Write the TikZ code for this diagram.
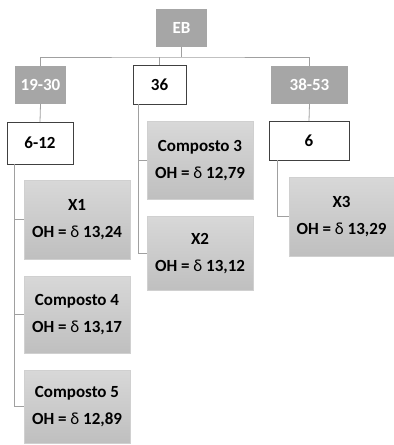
\documentclass[tikz,border=0pt]{standalone}
\usepackage{fontspec}
\setmainfont{Carlito}
\definecolor{hdrgray}{HTML}{A6A6A6}
\definecolor{linegray}{HTML}{A0A0A0}
\definecolor{boxtop}{HTML}{D8D8D8}
\definecolor{boxbot}{HTML}{BFBFBF}
\definecolor{boxedge}{HTML}{D0D0D0}
\definecolor{frame}{HTML}{404040}
\newcommand{\dlt}{{\mdseries δ}}
\begin{document}
\begin{tikzpicture}[x=1pt,y=-1pt,
  base/.style={inner sep=0pt,outer sep=0pt,align=center,
    font=\fontsize{17}{27}\selectfont\bfseries},
  hdr/.style={base,fill=hdrgray,text=white,minimum width=#1,minimum height=38},
  plain/.style={base,fill=white,draw=frame,line width=0.8pt,minimum width=#1,minimum height=39},
  cmpd/.style={base,top color=boxtop,bottom color=boxbot,draw=boxedge,line width=0.5pt,
    minimum width=106,minimum height=#1},
  link/.style={draw=linegray,line width=0.8pt}]
\useasboundingbox (0,0) rectangle (394,445);

% top level
\node[hdr=51] (eb) at (181.5,28) {EB};

% second level
\node[hdr=51]  (a) at (40.5,85)  {19-30};
\node[plain=53] (b) at (159.5,84.5) {36};
\node[hdr=77]  (c) at (309.5,85) {38-53};

% third level
\node[plain=66,minimum height=42] (a1) at (40,143) {6-12};
\node[plain=80] (c1) at (309,140.5) {6};

% compounds
\node[cmpd=79] (x1) at (77,219.5) {X1\\OH = \dlt{} 13,24};
\node[cmpd=77] (k4) at (77,314.5) {Composto 4\\OH = \dlt{} 13,17};
\node[cmpd=73] (k5) at (77,406.5) {Composto 5\\OH = \dlt{} 12,89};
\node[cmpd=77.5] (k3) at (200,160.3) {Composto 3\\OH = \dlt{} 12,79};
\node[cmpd=74] (x2) at (200,253.6) {X2\\OH = \dlt{} 13,12};
\node[cmpd=79,minimum width=105] (x3) at (341.5,216.5) {X3\\OH = \dlt{} 13,29};

% connectors
\coordinate (bus) at (181.5,57);
\draw[link] (eb.south) -- (bus);
\draw[link] (a.north) |- (bus) -| (c.north);
\draw[link] (b.north) -- (b.north |- bus);
\draw[link] (a.south) -- (a1.north);
\draw[link] (c.south) -- (c1.north);

\draw[link] ([xshift=-26]a1.south) |- (x1.west);
\draw[link] ([xshift=-26]a1.south) |- (k4.west);
\draw[link] ([xshift=-26]a1.south) |- (k5.west);

\draw[link] ([xshift=-21.5]b.south) |- (k3.west);
\draw[link] ([xshift=-21.5]b.south) |- (x2.west);

\draw[link] ([xshift=-32]c1.south) |- (x3.west);
\end{tikzpicture}
\end{document}
